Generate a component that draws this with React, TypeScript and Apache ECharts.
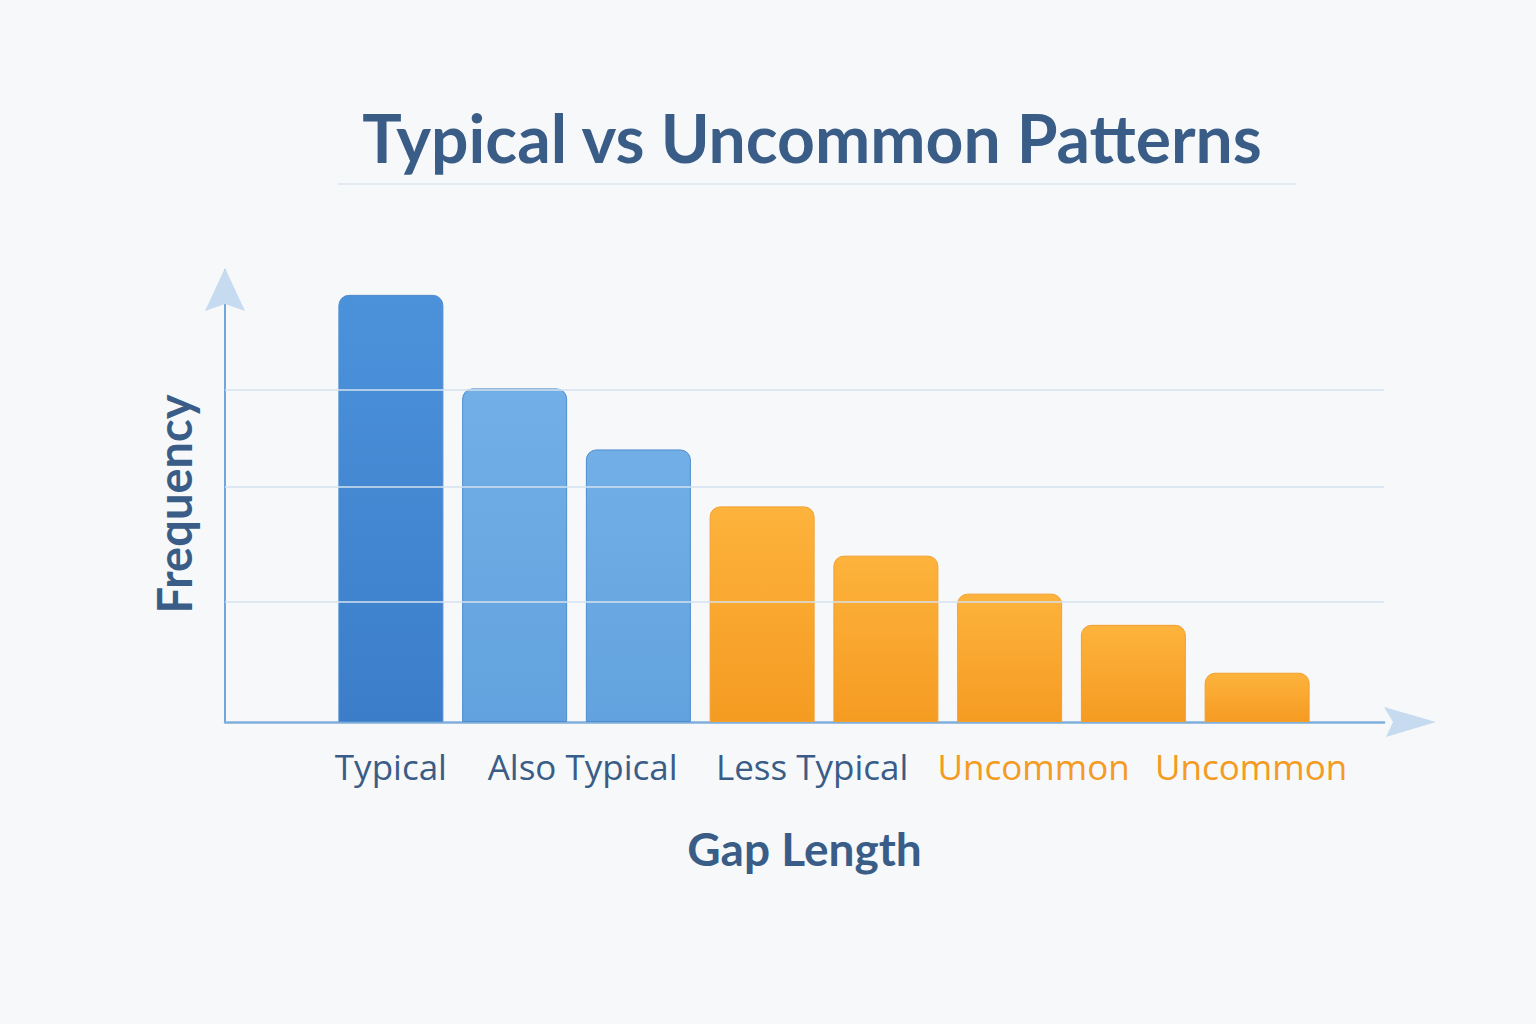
import { useEffect, useRef } from "react";
import * as echarts from "echarts";

// gap-length bins, left to right
const gapBins = ["bin1", "bin2", "bin3", "bin4", "bin5", "bin6", "bin7", "bin8"];
const frequency = [94.5, 73.8, 60.3, 47.7, 36.8, 28.4, 21.5, 10.9];
const binLabels = ["Typical", "Also Typical", "", "Less Typical", "", "Uncommon", "", "Uncommon"];
const uncommonFrom = 3; // bars from this index on are the uncommon (orange) ones
const guideLevels = [26.6, 52.1, 73.4];

// horizontal nudge of each label relative to its bar (px)
const labelShift = [0, 68, 0, 50, 0, 24, 0, -6];

const BLUE_TEXT = "#3a5d88";
const ORANGE_TEXT = "#f39b22";

const barColor = (i: number) => {
  if (i === 0)
    return new echarts.graphic.LinearGradient(0, 0, 0, 1, [
      { offset: 0, color: "#4c92db" },
      { offset: 1, color: "#3b7dc9" },
    ]);
  if (i < uncommonFrom)
    return new echarts.graphic.LinearGradient(0, 0, 0, 1, [
      { offset: 0, color: "#72afe7" },
      { offset: 1, color: "#62a2de" },
    ]);
  return new echarts.graphic.LinearGradient(0, 0, 0, 1, [
    { offset: 0, color: "#fdb33c" },
    { offset: 1, color: "#f59b22" },
  ]);
};

export default function App() {
  const chartRef = useRef<HTMLDivElement>(null);

  useEffect(() => {
    if (!chartRef.current) return;
    const chart = echarts.init(chartRef.current, null, { renderer: "svg" });

    const rich: Record<string, any> = {};
    binLabels.forEach((label, i) => {
      if (!label) return;
      const s = labelShift[i];
      rich["l" + i] = {
        color: i >= uncommonFrom + 2 ? ORANGE_TEXT : BLUE_TEXT,
        fontFamily: "Open Sans",
        fontSize: 35,
        padding: s >= 0 ? [0, 0, 0, 2 * s] : [0, -2 * s, 0, 0],
      };
    });

    chart.setOption({
      animation: false,
      backgroundColor: "#f7f8f9",
      title: {
        text: "Typical vs Uncommon Patterns",
        left: 812,
        top: 104,
        textAlign: "center",
        padding: 0,
        textStyle: {
          fontFamily: "Lato",
          fontWeight: "bold",
          fontSize: 66,
          color: BLUE_TEXT,
        },
      },
      grid: [
        { left: 225, right: 152, top: 270, bottom: 302 },
        { left: 329, right: 217, top: 270, bottom: 302 },
      ],
      xAxis: [
        {
          gridIndex: 0,
          type: "value",
          min: 0,
          max: 1,
          axisLine: { show: true, onZero: false, lineStyle: { color: "#80aedb", width: 2.5 } },
          axisTick: { show: false },
          axisLabel: { show: false },
          splitLine: { show: false },
          name: "Gap Length",
          nameLocation: "middle",
          nameGap: 103,
          nameTextStyle: {
            fontFamily: "Lato",
            fontWeight: "bold",
            fontSize: 46,
            color: BLUE_TEXT,
          },
        },
        {
          gridIndex: 1,
          type: "category",
          data: gapBins,
          axisLine: { show: false },
          axisTick: { show: false },
          axisLabel: {
            interval: 0,
            margin: 27,
            hideOverlap: false,
            formatter: (_v: string, i: number) => (binLabels[i] ? `{l${i}|${binLabels[i]}}` : ""),
            rich,
          },
        },
      ],
      yAxis: [
        {
          gridIndex: 0,
          type: "value",
          min: 0,
          max: 100,
          axisLine: { show: true, onZero: false, lineStyle: { color: "#72a5d9", width: 2 } },
          axisTick: { show: false },
          axisLabel: { show: false },
          splitLine: { show: false },
          name: "Frequency",
          nameLocation: "middle",
          nameRotate: 90,
          nameGap: 28,
          nameTextStyle: {
            fontFamily: "Lato",
            fontWeight: "bold",
            fontSize: 47,
            color: BLUE_TEXT,
            padding: [0, 16, 0, 0],
          },
        },
        {
          gridIndex: 1,
          type: "value",
          min: 0,
          max: 100,
          show: false,
        },
      ],
      series: [
        {
          type: "line",
          xAxisIndex: 0,
          yAxisIndex: 0,
          data: [[0, 0]],
          showSymbol: false,
          silent: true,
          z: 1,
          markLine: {
            silent: true,
            symbol: "none",
            label: { show: false },
            lineStyle: { color: "#d5e2ef", width: 1.5, type: "solid" },
            data: guideLevels.map((v) => ({ yAxis: v })),
          },
        },
        {
          type: "bar",
          xAxisIndex: 1,
          yAxisIndex: 1,
          barWidth: 105,
          z: 3,
          data: frequency.map((v, i) => ({
            value: v,
            itemStyle: {
              color: barColor(i),
              borderRadius: [10, 10, 0, 0],
              borderColor: i < uncommonFrom ? "#4f8ccf" : "#f2a030",
              borderWidth: 1,
            },
          })),
        },
      ],
      graphic: [
        {
          type: "line",
          z: 100,
          shape: { x1: 338, y1: 184, x2: 1296, y2: 184 },
          style: { stroke: "#dde5ed", lineWidth: 1.5 },
        },
        {
          type: "polygon",
          z: 100,
          shape: { points: [[225, 268], [245, 311], [225, 304], [205, 311]] },
          style: { fill: "#c6dbef" },
        },
        {
          type: "polygon",
          z: 100,
          shape: { points: [[1436, 722], [1384, 707], [1393, 722], [1386, 737]] },
          style: { fill: "#c6dbef" },
        },
      ],
    });

    return () => chart.dispose();
  }, []);

  return (
    <div
      ref={chartRef}
      style={{ position: "absolute", left: 0, top: 0, width: 1536, height: 1024 }}
    />
  );
}
